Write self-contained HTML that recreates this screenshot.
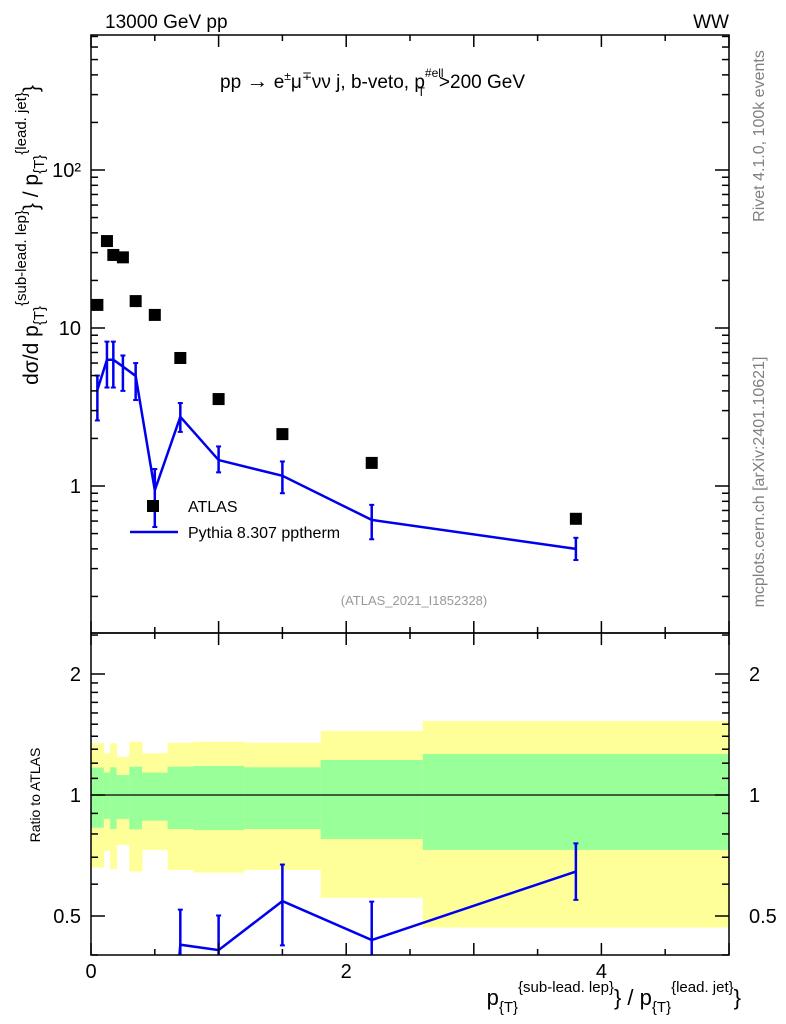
<!DOCTYPE html>
<html><head><meta charset="utf-8">
<style>
html,body{margin:0;padding:0;background:#fff;overflow:hidden;width:786px;height:1024px;}
svg{display:block;font-family:"Liberation Sans","DejaVu Sans",sans-serif;}
</style></head>
<body>
<svg id="chart" width="786" height="1024" viewBox="0 0 786 1024" xmlns="http://www.w3.org/2000/svg">
<defs>
<clipPath id="clipMain"><rect x="91" y="35" width="638" height="598"/></clipPath>
<clipPath id="clipRatio"><rect x="91" y="633" width="638" height="322"/></clipPath>
</defs>
<g id="bands" clip-path="url(#clipRatio)"></g>
<g id="marks"></g>
<text x="105" y="28" font-size="19">13000 GeV pp</text>
<text x="729" y="28" font-size="19" text-anchor="end">WW</text>
<text x="220" y="88" font-size="19">pp  <tspan font-size="22">→</tspan>  e<tspan font-size="12" dy="-8">±</tspan><tspan dy="8">μ</tspan><tspan font-size="12" dy="-8">∓</tspan><tspan dy="8">νν j, b-veto, p</tspan><tspan font-size="12" dy="-11">#ell</tspan><tspan font-size="12" dx="-26" dy="19">T</tspan><tspan dx="14" dy="-8">&gt;200 GeV</tspan></text>
<text x="414" y="605" font-size="13" fill="#999" text-anchor="middle">(ATLAS_2021_I1852328)</text>
<g>
<rect x="147" y="500" width="12" height="12" fill="#000"/>
<text x="188" y="512" font-size="16">ATLAS</text>
<line x1="130" y1="532" x2="178" y2="532" stroke="#0000ee" stroke-width="2.5"/>
<text x="188" y="538" font-size="16">Pythia 8.307 pptherm</text>
</g>
<text transform="translate(764,136) rotate(-90)" font-size="16" fill="#808080" text-anchor="middle">Rivet 4.1.0,  100k events</text>
<text transform="translate(764,482) rotate(-90)" font-size="16" fill="#808080" text-anchor="middle">mcplots.cern.ch [arXiv:2401.10621]</text>
<text transform="translate(38,235) rotate(-90)" font-size="21" text-anchor="middle">dσ/d p<tspan font-size="15" dy="6">{T}</tspan><tspan font-size="15" dy="-18">{sub-lead. lep}</tspan><tspan dy="12">} / p</tspan><tspan font-size="15" dy="6">{T}</tspan><tspan font-size="15" dy="-18">{lead. jet}</tspan><tspan dy="12">}</tspan></text>
<text transform="translate(40,795) rotate(-90)" font-size="14" text-anchor="middle">Ratio to ATLAS</text>
<text x="741" y="1005" font-size="22" text-anchor="end">p<tspan font-size="15" dy="7">{T}</tspan><tspan font-size="15" dy="-20">{sub-lead. lep}</tspan><tspan dy="13">} / p</tspan><tspan font-size="15" dy="7">{T}</tspan><tspan font-size="15" dy="-20">{lead. jet}</tspan><tspan dy="13">}</tspan></text>
</svg>
<script>
const binEdges=[0,0.1,0.15,0.2,0.3,0.4,0.6,0.8,1.2,1.8,2.6,5.0];
const xCenters=[0.05,0.125,0.175,0.25,0.35,0.5,0.7,1.0,1.5,2.2,3.8];
const atlasValues=[14,35.5,29,28,14.8,12.1,6.46,3.55,2.13,1.4,0.62];
const mcValues=[4.05,6.3,6.3,5.7,4.97,0.94,2.74,1.46,1.16,0.61,0.40];
const mcErrUp=[5.0,8.2,8.2,6.7,6.0,1.28,3.35,1.78,1.43,0.76,0.47];
const mcErrDown=[2.6,4.2,4.2,4.0,3.5,0.55,2.2,1.22,0.90,0.46,0.34];
const yellowTop=[1.345,1.27,1.345,1.245,1.357,1.27,1.349,1.357,1.349,1.443,1.528];
const yellowBot=[0.66,0.726,0.654,0.751,0.645,0.73,0.651,0.641,0.651,0.555,0.468];
const greenTop=[1.17,1.137,1.172,1.121,1.176,1.137,1.176,1.181,1.172,1.222,1.265];
const greenBot=[0.829,0.872,0.823,0.872,0.821,0.863,0.823,0.818,0.823,0.777,0.73];
const xTickLabels=[0,2,4];
const yTickLabels=["1","10","10²"];
const ratioTickLabels=[0.5,1,2];

const NS="http://www.w3.org/2000/svg";
const X0=91,X1=729,MT=35,MB=633,RB=955;
const xs=v=>X0+(v-0)/(5-0)*(X1-X0);
const ys=v=>486-158*Math.log10(v);
const yr=v=>795-121*Math.log2(v);
function mk(tag,attrs,parent){const e=document.createElementNS(NS,tag);for(const k in attrs)e.setAttribute(k,attrs[k]);(parent||document.getElementById('marks')).appendChild(e);return e;}
const bands=document.getElementById('bands');
for(let i=0;i<xCenters.length;i++){
  const xa=xs(binEdges[i]),xb=xs(binEdges[i+1]);
  let r=mk('rect',{x:xa,y:yr(yellowTop[i]),width:xb-xa+0.5,height:yr(yellowBot[i])-yr(yellowTop[i]),fill:'#ffff99'},bands);
  
  
  let g=mk('rect',{x:xa,y:yr(greenTop[i]),width:xb-xa+0.5,height:yr(greenBot[i])-yr(greenTop[i]),fill:'#99ff99'},bands);
  
  
}
const one=mk('line',{x1:X0,x2:X1,y1:yr(1),y2:yr(1),stroke:'#000','stroke-width':1.2});


const gm=mk('g',{'clip-path':'url(#clipMain)'});


const pts=xCenters.map((x,i)=>xs(x)+','+ys(mcValues[i])).join(' ');
mk('polyline',{points:pts,fill:'none',stroke:'#0000ee','stroke-width':2.5},gm);
xCenters.forEach((x,i)=>{
  const e=mk('g',{},gm);
  
  
  const cx=xs(x);
  mk('line',{x1:cx,x2:cx,y1:ys(mcErrUp[i]),y2:ys(mcErrDown[i]),stroke:'#0000ee','stroke-width':2.5},e);
  mk('line',{x1:cx-2.5,x2:cx+2.5,y1:ys(mcErrUp[i]),y2:ys(mcErrUp[i]),stroke:'#0000ee','stroke-width':2},e);
  mk('line',{x1:cx-2.5,x2:cx+2.5,y1:ys(mcErrDown[i]),y2:ys(mcErrDown[i]),stroke:'#0000ee','stroke-width':2},e);
});
xCenters.forEach((x,i)=>{
  const p=mk('rect',{x:xs(x)-6,y:ys(atlasValues[i])-6,width:12,height:12,fill:'#000'},gm);
  
  
});
const gr=mk('g',{'clip-path':'url(#clipRatio)'});


const rpts=xCenters.map((x,i)=>xs(x)+','+yr(mcValues[i]/atlasValues[i])).join(' ');
mk('polyline',{points:rpts,fill:'none',stroke:'#0000ee','stroke-width':2.5},gr);
xCenters.forEach((x,i)=>{
  const cx=xs(x),u=yr(mcErrUp[i]/atlasValues[i]),d=yr(mcErrDown[i]/atlasValues[i]);
  if(u>RB-5)return;
  const e=mk('g',{},gr);
  
  
  mk('line',{x1:cx,x2:cx,y1:u,y2:d,stroke:'#0000ee','stroke-width':2.5},e);
  mk('line',{x1:cx-2.5,x2:cx+2.5,y1:u,y2:u,stroke:'#0000ee','stroke-width':2},e);
  mk('line',{x1:cx-2.5,x2:cx+2.5,y1:d,y2:d,stroke:'#0000ee','stroke-width':2},e);
});
const fr=mk('g',{fill:'none',stroke:'#000','stroke-width':1.5});


mk('rect',{x:X0,y:MT,width:X1-X0,height:MB-MT},fr);
mk('rect',{x:X0,y:MB,width:X1-X0,height:RB-MB},fr);
for(let v=0;v<=5.001;v+=0.5){
  const L=(Math.abs(v-Math.round(v))<0.01)?12:6,x=xs(v);
  [[MT,MT+L],[MB,MB-L],[MB,MB+L],[RB,RB-L]].forEach(a=>mk('line',{x1:x,x2:x,y1:a[0],y2:a[1]},fr));
}
xTickLabels.forEach(v=>{
  const t=mk('text',{x:xs(v),y:978,'font-size':20,'text-anchor':'middle'});
  t.textContent=v;
  
  
});
for(let d=-1;d<=2;d++){for(let m=1;m<=9;m++){
  const v=m*Math.pow(10,d),y=ys(v);if(y<MT||y>MB)continue;
  const L=m==1?14:7;
  mk('line',{x1:X0,x2:X0+L,y1:y,y2:y},fr);mk('line',{x1:X1,x2:X1-L,y1:y,y2:y},fr);
}}
[1,10,100].forEach((v,i)=>{
  const t=mk('text',{x:X0-10,y:ys(v)+7,'font-size':20,'text-anchor':'end'});
  t.textContent=yTickLabels[i];
  
  
});
[0.4,0.5,0.6,0.7,0.8,0.9,1,1.1,1.2,1.3,1.4,1.5,1.6,1.7,1.8,1.9,2,2.5].forEach(v=>{
  const y=yr(v);if(y<MB||y>RB)return;
  const L=(v==0.5||v==1||v==2)?14:7;
  mk('line',{x1:X0,x2:X0+L,y1:y,y2:y},fr);mk('line',{x1:X1,x2:X1-L,y1:y,y2:y},fr);
});
ratioTickLabels.forEach(v=>{
  const t=mk('text',{x:X0-10,y:yr(v)+7,'font-size':20,'text-anchor':'end'});
  t.textContent=v;
  
  
  const t2=mk('text',{x:X1+20,y:yr(v)+7,'font-size':20});
  t2.textContent=v;
  
  
});
</script>
</body></html>
